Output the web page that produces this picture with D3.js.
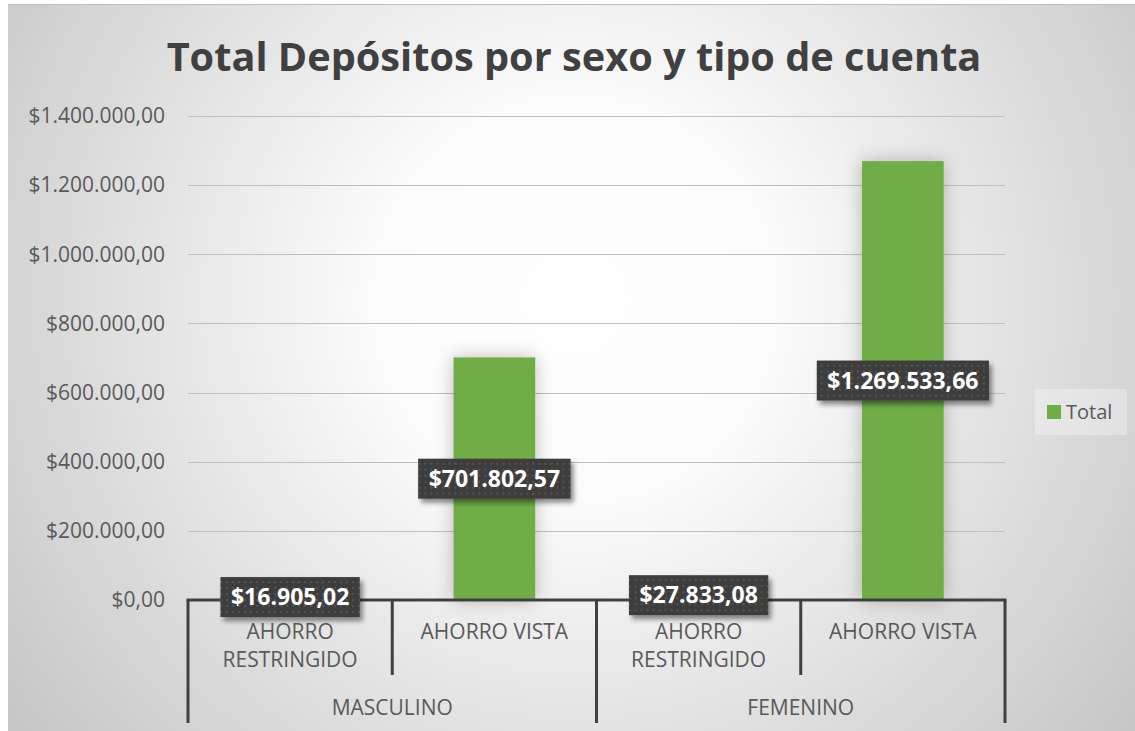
<!DOCTYPE html>
<html>
<head>
<meta charset="utf-8">
<script src="https://cdn.jsdelivr.net/npm/d3@7"></script>
<style>
  body { margin: 0; background: #fff; }
  svg { display: block; }
</style>
</head>
<body>
<svg id="chart" width="1135" height="731"></svg>
<script>
// data
var sexos = ["MASCULINO", "FEMENINO"]
var tipos = ["AHORRO RESTRINGIDO", "AHORRO VISTA"]
var masculino = [16905.02, 701802.57]
var femenino = [27833.08, 1269533.66]
var yTicks = [0, 200000, 400000, 600000, 800000, 1000000, 1200000, 1400000]
var serie = "Total"
var titulo = "Total Depósitos por sexo y tipo de cuenta"

var rows = []
sexos.forEach((s, i) => {
  var vals = i == 0 ? masculino : femenino
  tipos.forEach((t, j) => rows.push({ sexo: s, tipo: t, value: vals[j] }))
})

var locale = d3.formatLocale({ decimal: ",", thousands: ".", grouping: [3], currency: ["$", ""] })
var fmt = locale.format("$,.2f")

var font = "'Open Sans', 'Noto Sans', sans-serif"
var green = "#70ad47"
var ink = "#404040"
var grey = "#595959"

var svg = d3.select("#chart")
var defs = svg.append("defs")

var bg = defs.append("radialGradient").attr("id", "bg")
  .attr("gradientUnits", "userSpaceOnUse")
  .attr("cx", 575).attr("cy", 300).attr("r", 720)
bg.append("stop").attr("offset", 0).attr("stop-color", "#ffffff")
bg.append("stop").attr("offset", 0.28).attr("stop-color", "#fbfbfb")
bg.append("stop").attr("offset", 1).attr("stop-color", "#c4c4c4")

var glow = defs.append("filter").attr("id", "glow")
  .attr("x", "-60%").attr("y", "-20%").attr("width", "220%").attr("height", "140%")
glow.append("feDropShadow").attr("dx", 0).attr("dy", 0).attr("stdDeviation", 9)
  .attr("flood-color", "#000").attr("flood-opacity", 0.26)

var shadow = defs.append("filter").attr("id", "shadow")
  .attr("x", "-20%").attr("y", "-30%").attr("width", "140%").attr("height", "170%")
shadow.append("feDropShadow").attr("dx", 3).attr("dy", 4).attr("stdDeviation", 2.5)
  .attr("flood-color", "#000").attr("flood-opacity", 0.45)

var dots = defs.append("pattern").attr("id", "dots")
  .attr("patternUnits", "userSpaceOnUse").attr("width", 6).attr("height", 6)
dots.append("rect").attr("width", 6).attr("height", 6).attr("fill", "#3c3c3c")
dots.append("rect").attr("x", 2).attr("y", 2).attr("width", 2).attr("height", 2).attr("fill", "#555")

// background + frame
svg.append("rect").attr("x", 8).attr("y", 4).attr("width", 1127).attr("height", 727)
  .attr("fill", "url(#bg)")
svg.append("line").attr("x1", 8).attr("x2", 1135).attr("y1", 4.5).attr("y2", 4.5)
  .attr("stroke", "#bdbdbd")

var plot = { left: 188, right: 1005, top: 116, bottom: 600 }

var y = d3.scaleLinear().domain([0, 1400000]).range([plot.bottom, plot.top])
var gx = d3.scaleBand().domain(sexos).range([plot.left, plot.right])
var tx = d3.scaleBand().domain(tipos).range([0, gx.bandwidth()]).paddingInner(0.6).paddingOuter(0.3)

// title
var title = svg.append("text")
  .attr("x", 574).attr("y", 71)
  .attr("text-anchor", "middle")
  .attr("font-family", font).attr("font-weight", 700)
  .attr("font-size", 40).attr("fill", ink)
  .text(titulo)
var tw = title.node().getComputedTextLength()
title.attr("font-size", 40 * 815 / tw)

// grid
svg.append("g").selectAll("line")
  .data(yTicks.filter(d => d > 0))
  .join("line")
  .attr("x1", plot.left).attr("x2", plot.right)
  .attr("y1", d => Math.round(y(d)) + 0.5).attr("y2", d => Math.round(y(d)) + 0.5)
  .attr("stroke", "#bfbfbf").attr("stroke-width", 1.2)

// y axis
var yAxis = svg.append("g")
  .attr("transform", `translate(${plot.left},0)`)
  .call(d3.axisLeft(y).tickValues(yTicks).tickFormat(fmt).tickSize(0).tickPadding(23))
yAxis.select(".domain").remove()
yAxis.selectAll("text")
  .attr("font-family", font).attr("font-size", 21).attr("fill", grey)

// bars
var bars = svg.append("g").attr("filter", "url(#glow)")
bars.selectAll("rect")
  .data(rows)
  .join("rect")
  .attr("x", d => gx(d.sexo) + tx(d.tipo))
  .attr("width", tx.bandwidth())
  .attr("y", d => y(d.value))
  .attr("height", d => y(0) - y(d.value))
  .attr("fill", green)

// category axis (two levels)
var axis = svg.append("g").attr("stroke", ink).attr("stroke-width", 3).attr("fill", "none")
axis.append("line")
  .attr("x1", plot.left - 1.5).attr("x2", plot.right + 1.5)
  .attr("y1", plot.bottom).attr("y2", plot.bottom)
// outer separators (sexo)
var outerEdges = sexos.map(s => gx(s)).concat([plot.right])
axis.selectAll(".outer")
  .data(outerEdges)
  .join("line").attr("class", "outer")
  .attr("x1", d => d).attr("x2", d => d)
  .attr("y1", plot.bottom).attr("y2", 723)
// inner separators (tipo)
var innerEdges = sexos.map(s => gx(s) + tx.step())
axis.selectAll(".inner")
  .data(innerEdges)
  .join("line").attr("class", "inner")
  .attr("x1", d => d).attr("x2", d => d)
  .attr("y1", plot.bottom).attr("y2", 675)

svg.append("line")
  .attr("x1", plot.left - 10).attr("x2", plot.right + 10)
  .attr("y1", 676.5).attr("y2", 676.5)
  .attr("stroke", "#d0d0d0").attr("stroke-width", 1)
  .lower()
svg.select("rect").lower()

var catLabels = svg.append("g")
  .attr("font-family", font).attr("font-size", 21).attr("fill", grey)
  .attr("text-anchor", "middle")
catLabels.selectAll("text.tipo")
  .data(rows)
  .join("text").attr("class", "tipo")
  .attr("x", d => gx(d.sexo) + tx.step() * (tipos.indexOf(d.tipo) + 0.5))
  .attr("y", 639)
  .each(function (d) {
    var words = d.tipo.split(" ")
    var lines = d.tipo.length > 14 ? words : [d.tipo]
    d3.select(this).selectAll("tspan")
      .data(lines)
      .join("tspan")
      .attr("x", d3.select(this).attr("x"))
      .attr("dy", (l, i) => i == 0 ? 0 : 28)
      .text(l => l)
  })
catLabels.selectAll("text.sexo")
  .data(sexos)
  .join("text").attr("class", "sexo")
  .attr("x", d => gx(d) + gx.bandwidth() / 2)
  .attr("y", 715)
  .text(d => d)

// data labels
var labels = svg.append("g").selectAll("g")
  .data(rows)
  .join("g")
  .attr("transform", d => {
    var cx = gx(d.sexo) + tx(d.tipo) + tx.bandwidth() / 2
    var cy = (y(d.value) + y(0)) / 2
    return `translate(${cx},${cy})`
  })
labels.append("rect")
  .attr("fill", "url(#dots)").attr("filter", "url(#shadow)")
labels.append("text")
  .attr("text-anchor", "middle").attr("dy", "0.36em")
  .attr("font-family", font).attr("font-weight", 700).attr("font-size", 23)
  .attr("fill", "#fff")
  .text(d => fmt(d.value))
labels.each(function () {
  var g = d3.select(this)
  var w = g.select("text").node().getComputedTextLength() + 21
  g.select("rect").attr("x", -w / 2).attr("y", -20).attr("width", w).attr("height", 40)
})

// legend
var legend = svg.append("g").attr("transform", "translate(1035,389)")
legend.append("rect").attr("width", 92).attr("height", 46)
  .attr("fill", "#fff").attr("fill-opacity", 0.3)
legend.append("rect").attr("x", 12).attr("y", 16).attr("width", 14).attr("height", 14)
  .attr("fill", green)
legend.append("text").attr("x", 31).attr("y", 30)
  .attr("font-family", font).attr("font-size", 20).attr("fill", grey)
  .text(serie)
</script>
</body>
</html>
